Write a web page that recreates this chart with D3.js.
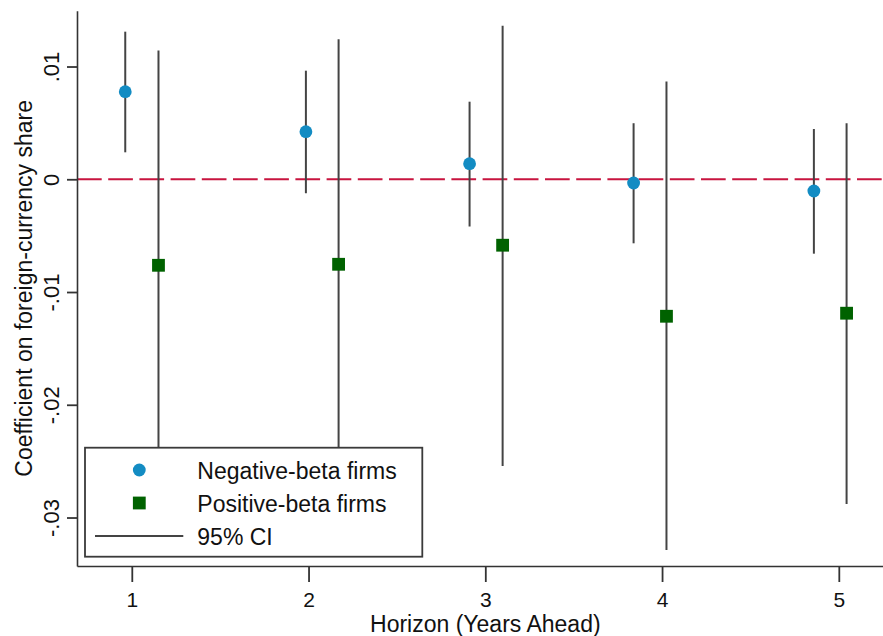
<!DOCTYPE html>
<html>
<head>
<meta charset="utf-8">
<script src="https://cdn.jsdelivr.net/npm/d3@7"></script>
<style>
  html, body { margin: 0; padding: 0; background: #fff; }
  svg { display: block; }
  text { font-family: "Liberation Sans", Arial, Helvetica, sans-serif; fill: #111; }
</style>
</head>
<body>
<svg id="chart" width="883" height="636"></svg>
<script>
// ---- data ----
const horizons = [1, 2, 3, 4, 5];
const xTickLabels = ["1", "2", "3", "4", "5"];
const yTickValues = [-0.03, -0.02, -0.01, 0, 0.01];
const yTickLabels = ["-.03", "-.02", "-.01", "0", ".01"];

const negX    = [0.963, 1.985, 2.911, 3.839, 4.859];
const negCoef = [0.00777, 0.00422, 0.00138, -0.00033, -0.00104];
const negLo   = [0.00239, -0.00124, -0.00419, -0.00568, -0.00660];
const negHi   = [0.01309, 0.00963, 0.00688, 0.00497, 0.00446];

const posX    = [1.151, 2.170, 3.098, 4.025, 5.044];
const posCoef = [-0.00763, -0.00754, -0.00585, -0.01215, -0.01188];
const posLo   = [-0.02666, -0.02749, -0.02543, -0.03288, -0.02880];
const posHi   = [0.01141, 0.01242, 0.01362, 0.00866, 0.00497];

const legendLabels = ["Negative-beta firms", "Positive-beta firms", "95% CI"];
const xTitle = "Horizon (Years Ahead)";
const yTitle = "Coefficient on foreign-currency share";

// ---- styles ----
const blue = "#138cc3", green = "#006200", ciColor = "#444", refColor = "#c8143f", axisColor = "#333";

const svg = d3.select("#chart");
const x = d3.scaleLinear().domain([0.69, 5.31]).range([77, 893.6]);
const y = d3.scaleLinear().domain([-0.0343, 0.01495]).range([566, 10.7]);

// zero reference line
svg.append("line")
  .attr("x1", x.range()[0]).attr("x2", x.range()[1])
  .attr("y1", y(0)).attr("y2", y(0))
  .attr("stroke", refColor).attr("stroke-width", 2)
  .attr("stroke-dasharray", "24.7 6.5");

const neg = horizons.map((h, i) => ({x: negX[i], c: negCoef[i], lo: negLo[i], hi: negHi[i]}));
const pos = horizons.map((h, i) => ({x: posX[i], c: posCoef[i], lo: posLo[i], hi: posHi[i]}));

// CI lines
svg.append("g").selectAll("line").data(neg.concat(pos)).join("line")
  .attr("x1", d => x(d.x)).attr("x2", d => x(d.x))
  .attr("y1", d => y(d.lo)).attr("y2", d => y(d.hi))
  .attr("stroke", ciColor).attr("stroke-width", 2);

// markers
svg.append("g").selectAll("circle").data(neg).join("circle")
  .attr("cx", d => x(d.x)).attr("cy", d => y(d.c)).attr("r", 6.4)
  .attr("fill", blue);
const sq = 12.8;
svg.append("g").selectAll("rect").data(pos).join("rect")
  .attr("x", d => x(d.x) - sq / 2).attr("y", d => y(d.c) - sq / 2)
  .attr("width", sq).attr("height", sq).attr("fill", green);

// axes
const xAxis = d3.axisBottom(x).tickValues(horizons)
  .tickFormat((d, i) => xTickLabels[i]).tickSize(16).tickSizeOuter(0);
const gx = svg.append("g").attr("transform", `translate(0,${y.range()[0]})`).call(xAxis);
gx.select(".domain").attr("stroke", axisColor).attr("stroke-width", 1.6);
gx.selectAll(".tick line").attr("stroke", axisColor).attr("stroke-width", 1.8).attr("y1", 1);
gx.selectAll(".tick text").attr("y", 40.5).attr("dy", 0)
  .style("font-size", "21px").attr("fill", "#111");

const yAxis = d3.axisLeft(y).tickValues(yTickValues)
  .tickFormat((d, i) => yTickLabels[i]).tickSize(10).tickSizeOuter(0);
const gy = svg.append("g").attr("transform", `translate(${x.range()[0]},0)`).call(yAxis);
gy.select(".domain").attr("stroke", axisColor).attr("stroke-width", 1.6);
gy.selectAll(".tick line").attr("stroke", axisColor).attr("stroke-width", 1.8);
gy.selectAll(".tick text")
  .attr("x", null).attr("dy", 0).attr("y", 0)
  .attr("text-anchor", "middle")
  .attr("transform", "translate(-18,0) rotate(-90)")
  .style("font-size", "22px").attr("fill", "#111");
svg.selectAll(".domain").attr("fill", "none");

// axis titles
svg.append("text")
  .attr("x", (x.range()[0] + x.range()[1]) / 2).attr("y", 632)
  .attr("text-anchor", "middle").style("font-size", "23px").text(xTitle);
svg.append("text")
  .attr("transform", `translate(32,${(y.range()[0] + y.range()[1]) / 2}) rotate(-90)`)
  .attr("text-anchor", "middle").style("font-size", "23px").text(yTitle);

// legend
const lg = svg.append("g");
lg.append("rect").attr("x", 85).attr("y", 447.7).attr("width", 337.3).attr("height", 109)
  .attr("fill", "#fff").attr("stroke", "#3a3a3a").attr("stroke-width", 1.8);
lg.append("circle").attr("cx", 139.3).attr("cy", 470).attr("r", 6.4).attr("fill", blue);
lg.append("rect").attr("x", 139.3 - sq / 2).attr("y", 503 - sq / 2).attr("width", sq).attr("height", sq).attr("fill", green);
lg.append("line").attr("x1", 95).attr("x2", 183.3).attr("y1", 536).attr("y2", 536)
  .attr("stroke", ciColor).attr("stroke-width", 2);
const legBase = [479.3, 511.7, 545];
legendLabels.forEach((t, i) => {
  lg.append("text").attr("x", 197.3).attr("y", legBase[i]).style("font-size", "23px").text(t);
});
</script>
</body>
</html>
